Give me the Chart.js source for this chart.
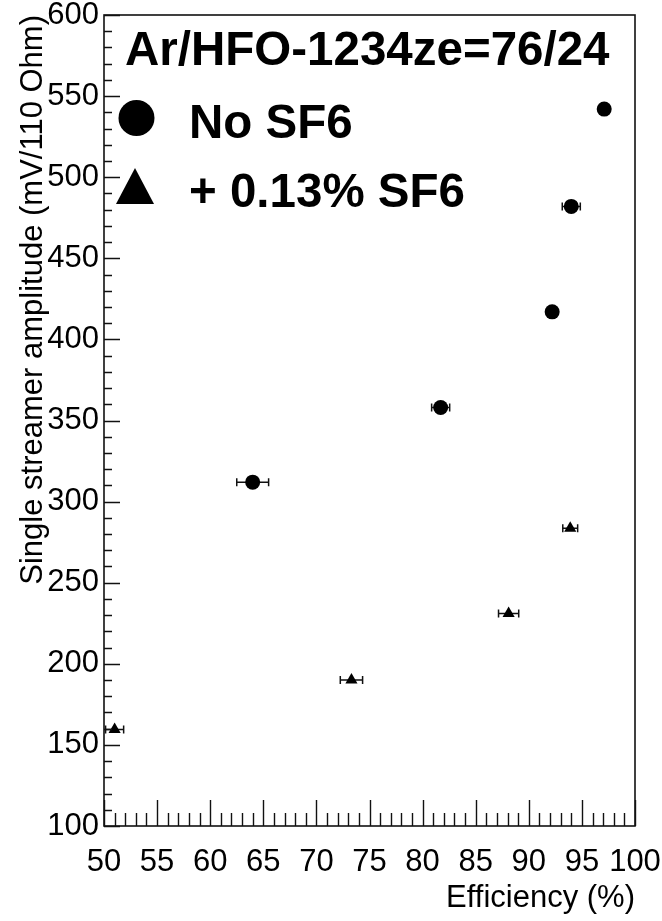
<!DOCTYPE html>
<html><head><meta charset="utf-8">
<script src="https://cdn.jsdelivr.net/npm/chart.js@4.4.1/dist/chart.umd.min.js"></script>
<style>html,body{margin:0;padding:0;background:#fff;}#wrap{width:662px;height:921px;}</style>
</head><body><div id="wrap"><canvas id="c" width="662" height="921"></canvas></div>
<script>
// ---- data ----
const titleText = "Ar/HFO-1234ze=76/24";
const seriesNames = ["No SF6", "+ 0.13% SF6"];
const xTitle = "Efficiency (%)";
const yTitle = "Single streamer amplitude (mV/110 Ohm)";
const noSF6X = [64.0, 81.7, 92.2, 94.0, 97.1];
const noSF6Y = [312, 358, 417, 482, 542];
const noSF6XErr = [1.5, 0.85, 0.3, 0.85, 0.3];
const sf6X = [51.0, 73.3, 88.1, 93.9];
const sf6Y = [159.5, 190, 231, 283.5];
const sf6XErr = [0.85, 1.05, 0.95, 0.7];
const xTickValues = [50, 55, 60, 65, 70, 75, 80, 85, 90, 95, 100];
const yTickValues = [100, 150, 200, 250, 300, 350, 400, 450, 500, 550, 600];

const toPts = (xs, ys, es) => xs.map((x, i) => ({x: x, y: ys[i], xErr: es[i]}));

const INK = '#111';
const FRAME = {left: 104, right: 635, top: 15, bottom: 826};

const rootStyle = {
  id: 'rootStyle',
  beforeDatasetsDraw(chart) {
    const ctx = chart.ctx, xs = chart.scales.x, ys = chart.scales.y;
    ctx.save();
    ctx.strokeStyle = INK; ctx.lineWidth = 1.5;
    chart.data.datasets.forEach(ds => {
      ds.data.forEach(p => {
        const x1 = xs.getPixelForValue(p.x - p.xErr), x2 = xs.getPixelForValue(p.x + p.xErr);
        const py = ys.getPixelForValue(p.y);
        ctx.beginPath();
        ctx.moveTo(x1, py); ctx.lineTo(x2, py);
        ctx.moveTo(x1, py - 4); ctx.lineTo(x1, py + 4);
        ctx.moveTo(x2, py - 4); ctx.lineTo(x2, py + 4);
        ctx.stroke();
      });
    });
    ctx.restore();
  },
  afterDatasetsDraw(chart) {
    const ctx = chart.ctx, a = chart.chartArea, xs = chart.scales.x, ys = chart.scales.y;
    ctx.save();
    ctx.strokeStyle = INK; ctx.lineWidth = 1.6;
    ctx.strokeRect(a.left, a.top, a.right - a.left, a.bottom - a.top);
    ctx.lineWidth = 1.4;
    ctx.beginPath();
    for (let v = ys.min; v <= ys.max + 1e-6; v += 10) {
      const py = Math.round(ys.getPixelForValue(v)) + 0.5;
      const len = (Math.round(v) % 50 === 0) ? 16 : 8;
      ctx.moveTo(a.left, py); ctx.lineTo(a.left + len, py);
    }
    for (let v = xs.min; v <= xs.max + 1e-6; v += 1) {
      const px = Math.round(xs.getPixelForValue(v)) + 0.5;
      const len = (Math.round(v) % 5 === 0) ? 26 : 13;
      ctx.moveTo(px, a.bottom); ctx.lineTo(px, a.bottom - len);
    }
    ctx.stroke();
    // header text and legend
    ctx.fillStyle = '#000';
    ctx.font = 'bold 47.5px "Liberation Sans", Arial, sans-serif';
    ctx.textBaseline = 'alphabetic';
    ctx.textAlign = 'left';
    ctx.fillText(titleText, 125, 65);
    ctx.fillText(seriesNames[0], 189, 138);
    ctx.fillText(seriesNames[1], 189, 207);
    ctx.beginPath();
    ctx.arc(136.5, 118, 18, 0, Math.PI * 2);
    ctx.fill();
    ctx.beginPath();
    ctx.moveTo(135, 168); ctx.lineTo(154, 204); ctx.lineTo(116, 204); ctx.closePath();
    ctx.fill();
    ctx.restore();
  }
};

const tickFont = {family: '"Liberation Sans Narrow", "Liberation Sans", Arial, sans-serif', size: 31};
const titleFont = {family: '"Liberation Sans", Arial, sans-serif', size: 31};

new Chart(document.getElementById('c'), {
  type: 'scatter',
  data: {
    datasets: [
      {label: seriesNames[0], data: toPts(noSF6X, noSF6Y, noSF6XErr), pointStyle: 'circle', pointRadius: 7.5, pointHoverRadius: 7.5,
       backgroundColor: '#000', borderColor: '#000', borderWidth: 0},
      {label: seriesNames[1], data: toPts(sf6X, sf6Y, sf6XErr), pointStyle: 'triangle', pointRadius: 7, pointHoverRadius: 7,
       backgroundColor: '#000', borderColor: '#000', borderWidth: 0}
    ]
  },
  options: {
    responsive: false, animation: false, devicePixelRatio: 1,
    layout: {padding: {left: 0, right: 662 - FRAME.right, top: FRAME.top, bottom: 0}},
    plugins: {legend: {display: false}, tooltip: {enabled: false}},
    scales: {
      x: {
        type: 'linear', min: 50, max: 100,
        afterBuildTicks: s => { s.ticks = xTickValues.map(v => ({value: v})); },
        ticks: {autoSkip: false, maxRotation: 0, padding: 18, color: '#000', font: tickFont},
        grid: {display: false, drawTicks: false}, border: {display: false},
        title: {display: true, text: xTitle, align: 'end', color: '#000', font: titleFont, padding: {top: 0, bottom: 4}},
        afterFit: s => { s.height = 921 - FRAME.bottom; s.paddingLeft = s.paddingRight = s.paddingTop = s.paddingBottom = 0; }
      },
      y: {
        type: 'linear', min: 100, max: 600,
        afterBuildTicks: s => { s.ticks = yTickValues.map(v => ({value: v})); },
        ticks: {autoSkip: false, padding: 5, color: '#000', font: tickFont},
        grid: {display: false, drawTicks: false}, border: {display: false},
        title: {display: true, text: yTitle, align: 'end', color: '#000', font: titleFont, padding: {top: 15, bottom: 0}},
        afterFit: s => { s.width = FRAME.left; s.paddingLeft = s.paddingRight = s.paddingTop = s.paddingBottom = 0; }
      }
    }
  },
  plugins: [rootStyle]
});
</script></body></html>
